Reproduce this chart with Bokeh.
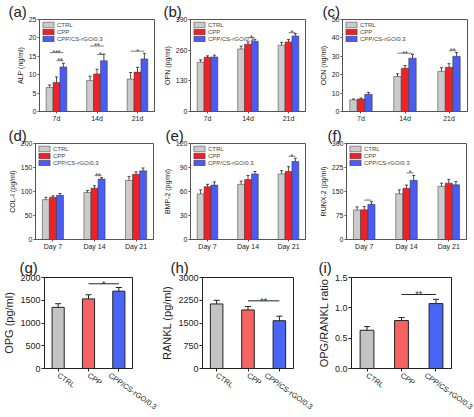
from bokeh.plotting import figure
from bokeh.models import Range1d, FixedTicker, Whisker, ColumnDataSource, TeeHead
from bokeh.layouts import column, row
from bokeh.embed import file_html
from bokeh.resources import INLINE
from bokeh.core.properties import value

FONT = "Liberation Sans"

series = ["CTRL", "CPP", "CPP/CS-rGO/0.3"]
days_short = ["7d", "14d", "21d"]
days_long = ["Day 7", "Day 14", "Day 21"]

# top/middle panels: rows = series (CTRL, CPP, CPP/CS-rGO/0.3), columns = time points
alp_mean = [[6.5, 8.4, 8.8], [7.9, 10.2, 10.7], [12.1, 13.8, 14.3]]
alp_err = [[0.7, 1.2, 1.8], [1.5, 1.3, 1.3], [1.0, 1.8, 1.5]]
alp_sig = [(0, 0, 2, 16.0, "***"), (0, 1, 2, 13.8, "**"), (1, 0, 2, 17.8, "**"),
           (1, 1, 2, 15.5, "*"), (2, 0, 2, 16.4, "*")]

opn_mean = [[209, 265, 281], [230, 285, 295], [231, 298, 320]]
opn_err = [[10, 12, 12], [6, 10, 10], [8, 8, 10]]
opn_sig = [(1, 1, 2, 313, "*"), (2, 1, 2, 334, "*")]

ocn_mean = [[6.3, 19.0, 21.8], [6.8, 23.5, 24.0], [9.4, 29.0, 30.0]]
ocn_err = [[0.5, 1.5, 2.0], [0.5, 1.5, 2.0], [1.0, 2.0, 2.0]]
ocn_sig = [(1, 0, 2, 31.7, "**"), (2, 1, 2, 33.0, "**")]

col_mean = [[83, 98, 123], [88, 107, 136], [92, 126, 143]]
col_err = [[5, 4, 8], [3, 5, 5], [4, 3, 6]]
col_sig = [(1, 1, 2, 133, "**")]

bmp_mean = [[57, 69, 82], [66, 75, 85], [68, 82, 97.5]]
bmp_err = [[5, 4, 4], [3, 5, 6], [4, 3, 4]]
bmp_sig = [(2, 1, 2, 104, "*")]

runx_mean = [[92, 143, 166], [93, 160, 176], [110, 185, 171]]
runx_err = [[10, 12, 10], [10, 10, 12], [8, 15, 10]]
runx_sig = [(0, 1, 2, 123, "*"), (1, 1, 2, 208, "*")]

# bottom panels: one value per group
opg_mean = [1344, 1530, 1700]
opg_err = [80, 90, 80]
opg_sig = (1, 2, 1862, "*")

rankl_mean = [2128, 1931, 1575]
rankl_err = [120, 110, 150]
rankl_sig = (1, 2, 2230, "**")

ratio_mean = [0.63, 0.79, 1.07]
ratio_err = [0.06, 0.05, 0.07]
ratio_sig = (1, 2, 1.22, "**")

top_colors = ["#cbcbcb", "#ec2226", "#4b5cf2"]
bot_colors = ["#c3c3c3", "#f76263", "#4a65f5"]


def base_fig(tag, w, h, xr, ymax, bl, br, bt, bb, tag_left, tag_standoff):
    p = figure(width=w, height=h, x_range=Range1d(*xr), y_range=Range1d(0, ymax),
               output_backend="svg", toolbar_location=None, title=tag,
               min_border_left=bl, min_border_right=br, min_border_top=bt, min_border_bottom=bb)
    p.xgrid.visible = False
    p.ygrid.visible = False
    p.background_fill_color = "white"
    p.border_fill_color = "white"
    p.title.text_font = FONT
    p.title.text_font_size = "15px"
    p.title.text_font_style = "normal"
    p.title.text_color = "#222222"
    p.title.align = "left"
    p.title.offset = -(bl - tag_left)
    p.title.standoff = tag_standoff
    return p


def style_axis(ax, tick_font, label_font, tick_out, color):
    ax.major_label_text_font = FONT
    ax.major_label_text_font_size = tick_font
    ax.major_label_text_color = "#222222"
    ax.axis_label_text_font = FONT
    ax.axis_label_text_font_size = label_font
    ax.axis_label_text_font_style = "normal"
    ax.axis_label_text_color = "#222222"
    ax.axis_label_standoff = 2
    ax.major_label_standoff = 1
    ax.major_tick_out = tick_out
    ax.major_tick_in = 0
    ax.minor_tick_out = 0
    ax.minor_tick_in = 0
    ax.axis_line_color = color
    ax.major_tick_line_color = color


def top_panel(tag, ylab, ymax, ticks, cats, means, errs, sigs, w, h, bl, br, bt, bb,
              tag_left, sig_colors=None):
    xr = (0.58, 3.42)
    p = base_fig(tag, w, h, xr, ymax, bl, br, bt, bb, tag_left, 0)
    offs = [-0.17, 0.0, 0.17]
    for s in range(3):
        xs = [g + 1 + offs[s] for g in range(3)]
        p.vbar(x=xs, top=means[s], width=0.17, fill_color=top_colors[s],
               line_color="#333333", line_width=0.5, legend_label=series[s])
        src = ColumnDataSource(dict(x=xs,
                                    lo=[m - e for m, e in zip(means[s], errs[s])],
                                    hi=[m + e for m, e in zip(means[s], errs[s])]))
        p.add_layout(Whisker(source=src, base="x", lower="lo", upper="hi",
                             line_color="#222222", line_width=0.8,
                             upper_head=TeeHead(size=3, line_width=0.8, line_color="#222222"),
                             lower_head=TeeHead(size=3, line_width=0.8, line_color="#222222")))
    x0 = [g + 1 + offs[a] for g, a, b, y, t in sigs]
    x1 = [g + 1 + offs[b] for g, a, b, y, t in sigs]
    ys = [y for g, a, b, y, t in sigs]
    txt = [t for g, a, b, y, t in sigs]
    cols = sig_colors if sig_colors else ["#333333"] * len(sigs)
    p.segment(x0=x0, y0=ys, x1=x1, y1=ys, line_color="#444444", line_width=0.7)
    p.text(x=[(a + b) / 2 for a, b in zip(x0, x1)], y=ys, text=txt, text_color=cols,
           text_font=value(FONT), text_font_size=value("7px"),
           text_align="center", text_baseline="alphabetic")
    p.xaxis.ticker = FixedTicker(ticks=[1, 2, 3])
    p.xaxis.major_label_overrides = {1: cats[0], 2: cats[1], 3: cats[2]}
    p.yaxis.ticker = FixedTicker(ticks=ticks)
    p.yaxis.axis_label = ylab
    for ax in (p.xaxis[0], p.yaxis[0]):
        style_axis(ax, "7px", "7px", 2, "#555555")
    p.outline_line_color = "#555555"
    p.outline_line_width = 1
    lg = p.legend[0]
    lg.location = "top_left"
    lg.label_text_font = FONT
    lg.label_text_font_size = "6px"
    lg.label_height = 7
    lg.glyph_height = 7
    lg.glyph_width = 14
    lg.spacing = 0
    lg.padding = 1
    lg.margin = 1
    lg.label_standoff = 2
    lg.border_line_alpha = 0
    lg.background_fill_alpha = 0
    return p


def bottom_panel(tag, ylab, ymax, ticks, means, errs, sig, w, h, bl, br, bt, bb, tag_left, fmt=None):
    xr = (0.55, 3.45)
    p = base_fig(tag, w, h, xr, ymax, bl, br, bt, bb, tag_left, 3)
    xs = [1, 2, 3]
    p.vbar(x=xs, top=means, width=0.4, fill_color=bot_colors, line_color="#222222", line_width=1)
    src = ColumnDataSource(dict(x=xs, lo=[m - e for m, e in zip(means, errs)],
                                hi=[m + e for m, e in zip(means, errs)]))
    p.add_layout(Whisker(source=src, base="x", lower="lo", upper="hi",
                         line_color="#222222", line_width=1,
                         upper_head=TeeHead(size=6, line_width=1, line_color="#222222"),
                         lower_head=TeeHead(size=6, line_width=1, line_color="#222222")))
    a, b, y, t = sig
    p.segment(x0=[xs[a]], y0=[y], x1=[xs[b]], y1=[y], line_color="#222222", line_width=1)
    p.text(x=[(xs[a] + xs[b]) / 2], y=[y], text=[t], text_color="#333333",
           text_font=value(FONT), text_font_size=value("9px"),
           text_align="center", text_baseline="alphabetic")
    p.xaxis.ticker = FixedTicker(ticks=xs)
    p.xaxis.major_label_overrides = {1: series[0], 2: series[1], 3: series[2]}
    p.xaxis.major_label_orientation = -0.62
    p.yaxis.ticker = FixedTicker(ticks=ticks)
    if fmt:
        p.yaxis.major_label_overrides = fmt
    p.yaxis.axis_label = ylab
    style_axis(p.xaxis[0], "7.5px", "11px", 3, "#222222")
    p.xaxis.major_label_standoff = 3
    style_axis(p.yaxis[0], "9px", "11px", 3, "#222222")
    p.outline_line_color = "#222222"
    p.outline_line_width = 1
    return p


pa = top_panel("(a)", "ALP (ng/ml)", 25, [0, 5, 10, 15, 20, 25], days_short, alp_mean, alp_err, alp_sig,
               160, 124, 39, 6, 17, 11, 8)
pb = top_panel("(b)", "OPN (pg/ml)", 390, [0, 130, 260, 390], days_short, opn_mean, opn_err, opn_sig,
               156, 124, 29, 11, 17, 11, 2)
pc = top_panel("(c)", "OCN (ng/ml)", 50, [0, 10, 20, 30, 40, 50], days_short, ocn_mean, ocn_err, ocn_sig,
               158, 124, 21, 7, 17, 11, 1)

pd_ = top_panel("(d)", "COL-I (pg/ml)", 200, [0, 50, 100, 150, 200], days_long, col_mean, col_err, col_sig,
                160, 128, 35, 7, 17, 11, 8)
pe = top_panel("(e)", "BMP-2 (pg/ml)", 120, [0, 30, 60, 90, 120], days_long, bmp_mean, bmp_err, bmp_sig,
               156, 128, 27, 11, 17, 11, 2)
pf = top_panel("(f)", "RUNX-2 (pg/ml)", 300, [0, 75, 150, 225, 300], days_long, runx_mean, runx_err, runx_sig,
               158, 128, 20, 8, 17, 11, 1, sig_colors=["#b8c400", "#333333"])

pg = bottom_panel("(g)", "OPG (pg/ml)", 2000, [0, 500, 1000, 1500, 2000], opg_mean, opg_err, opg_sig,
                  158, 165, 33, 26, 25, 34, 8)
ph = bottom_panel("(h)", "RANKL (pg/ml)", 3000, [0, 750, 1500, 2250, 3000], rankl_mean, rankl_err, rankl_sig,
                  156, 165, 34, 21, 25, 34, 2)
pi = bottom_panel("(i)", "OPG/RANKL ratio", 1.5, [0, 0.5, 1.0, 1.5], ratio_mean, ratio_err, ratio_sig,
                  160, 165, 35, 23, 25, 34, 2,
                  fmt={0: "0.0", 0.5: "0.5", 1: "1.0", 1.5: "1.5"})

layout = column(row(pa, pb, pc), row(pd_, pe, pf), row(pg, ph, pi))

open("out.html", "w").write(file_html(layout, INLINE))
